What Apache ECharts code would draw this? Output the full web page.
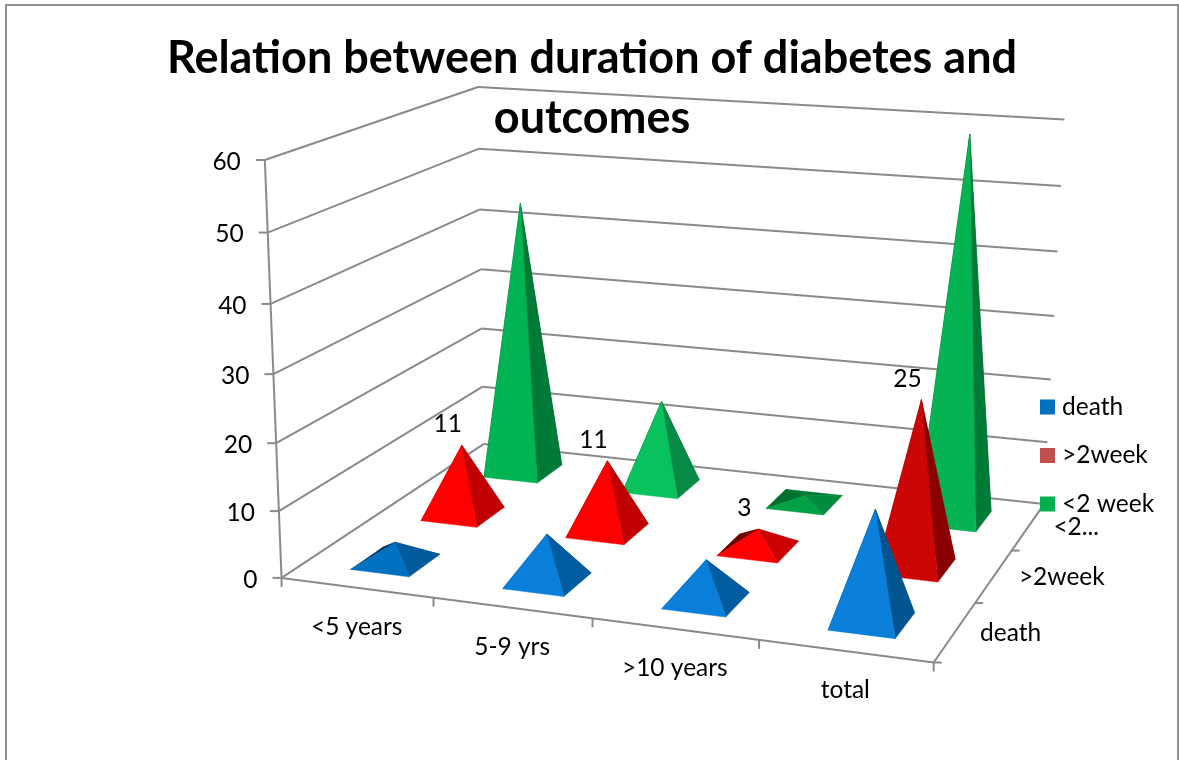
<!DOCTYPE html>
<html>
<head>
<meta charset="utf-8">
<style>html,body{margin:0;padding:0;background:#fff}#chart{width:1179px;height:760px}</style>
<script src="https://cdn.jsdelivr.net/npm/echarts@6/dist/echarts.min.js"></script>
</head>
<body>
<div id="chart"></div>
<script>
// Chart values
const categories = ['<5 years', '5-9 yrs', '>10 years', 'total'];
const seriesNames = ['death', '>2week', '<2 week'];
const depthLabels = ['death', '>2week', '<2...'];
const valueTicks = [0, 10, 20, 30, 40, 50, 60];
const deathValues = [3, 7, 6, 16];
const over2WeekValues = [11, 11, 3, 25];
const under2WeekValues = [44, 14, 1, 59];

// Face colours per pyramid: [back, left, right, front]
const deathFaces = [
  ['#00508c', '#002f55', '#005a9c', '#0070c0'],
  ['#00508c', '#002f55', '#005c9e', '#0a7fda'],
  ['#00508c', '#002f55', '#005c9e', '#0a7fda'],
  ['#00508c', '#002f55', '#005490', '#0a80da']
];
const over2WeekFaces = [
  ['#a00000', '#700000', '#c00000', '#ff0000'],
  ['#a00000', '#700000', '#c00000', '#ff0000'],
  ['#b00000', '#6e0000', '#cc0000', '#ff0000'],
  ['#a00000', '#700000', '#8a0000', '#cc0505']
];
const under2WeekFaces = [
  ['#006a30', '#004e22', '#007a37', '#00b353'],
  ['#006a30', '#004e22', '#078a45', '#08c35d'],
  ['#007a35', '#00702f', '#008a3e', '#00a044'],
  ['#006a30', '#004e22', '#007a37', '#06b353']
];

// Camera: a projective map fitted to reference points of the chart box.
// Each anchor is [category position, depth position, value, pixel x, pixel y].
const boxAnchors = [
  [0, 0, 60, 264, 161], [0, 0, 50, 268, 233], [0, 0, 40, 271, 304], [0, 0, 30, 274, 373],
  [0, 0, 20, 277, 442], [0, 0, 10, 279, 510], [0, 0, 0, 281, 578],
  [0, 3, 60, 478, 87], [0, 3, 50, 478, 148], [0, 3, 40, 480, 209], [0, 3, 30, 481, 269],
  [0, 3, 20, 482, 328], [0, 3, 10, 483, 388], [0, 3, 0, 484, 445],
  [4, 3, 60, 1063, 120], [4, 3, 50, 1061, 186], [4, 3, 40, 1059, 252], [4, 3, 30, 1056, 316],
  [4, 3, 20, 1051, 380], [4, 3, 10, 1047, 441], [4, 3, 0, 1041, 503],
  [4, 0, 0, 933, 662], [1, 0, 0, 433, 599], [2, 0, 0, 592, 619], [3, 0, 0, 758, 640],
  [4, 1, 0, 977, 603], [4, 2, 0, 1013, 551]
];

function fitCamera(anchors) {
  const n = 11, ata = [], atb = new Array(n).fill(0);
  for (let i = 0; i < n; i++) ata.push(new Array(n).fill(0));
  const add = (row, b) => {
    for (let i = 0; i < n; i++) {
      atb[i] += row[i] * b;
      for (let j = 0; j < n; j++) ata[i][j] += row[i] * row[j];
    }
  };
  anchors.forEach(([cx, dz, val, px, py]) => {
    const X = cx / 4, Z = dz / 3, Y = val / 60, u = px / 1000, v = py / 1000;
    add([X, Y, Z, 1, 0, 0, 0, 0, -u * X, -u * Y, -u * Z], u);
    add([0, 0, 0, 0, X, Y, Z, 1, -v * X, -v * Y, -v * Z], v);
  });
  for (let c = 0; c < n; c++) {
    let piv = c;
    for (let r = c + 1; r < n; r++) if (Math.abs(ata[r][c]) > Math.abs(ata[piv][c])) piv = r;
    [ata[c], ata[piv]] = [ata[piv], ata[c]];
    [atb[c], atb[piv]] = [atb[piv], atb[c]];
    for (let r = c + 1; r < n; r++) {
      const f = ata[r][c] / ata[c][c];
      for (let k = c; k < n; k++) ata[r][k] -= f * ata[c][k];
      atb[r] -= f * atb[c];
    }
  }
  const m = new Array(n).fill(0);
  for (let r = n - 1; r >= 0; r--) {
    let s = atb[r];
    for (let k = r + 1; k < n; k++) s -= ata[r][k] * m[k];
    m[r] = s / ata[r][r];
  }
  return m;
}
const cam = fitCamera(boxAnchors);

function project(cx, dz, val) {
  const X = cx / 4, Z = dz / 3, Y = val / 60;
  const w = cam[8] * X + cam[9] * Y + cam[10] * Z + 1;
  return [
    1000 * (cam[0] * X + cam[1] * Y + cam[2] * Z + cam[3]) / w,
    1000 * (cam[4] * X + cam[5] * Y + cam[6] * Z + cam[7]) / w
  ];
}

const FONT = 'Lato';
const TEXT_SIZE = 24.5;
const LINE = { stroke: '#8a8a8a', lineWidth: 2 };
const HALF_X = 0.195, HALF_Z = 0.22, SHIFT_X = 0.015;

function seg(a, b) {
  return { type: 'line', shape: { x1: a[0], y1: a[1], x2: b[0], y2: b[1] }, style: LINE, silent: true };
}
function label(text, p, align) {
  return {
    type: 'text', silent: true,
    style: { text: String(text), x: p[0], y: p[1], align: align, verticalAlign: 'middle',
      font: TEXT_SIZE + 'px ' + FONT, fill: '#000' }
  };
}

// Walls, floor edges, ticks and axis labels of the 3D box
function renderBox() {
  const c = [];
  valueTicks.forEach(v => {
    const a = project(0, 0, v), b = project(0, 3, v), r = project(4, 3, v);
    c.push(seg([a[0] - 9, a[1]], a), seg(a, b), seg(b, r));
    c.push(label(v, [a[0] - 24, a[1] + 2], 'right'));
  });
  c.push(seg(project(0, 0, 0), project(0, 0, 60)));
  c.push(seg(project(0, 0, 0), project(4, 0, 0)));
  c.push(seg(project(4, 0, 0), project(4, 3, 0)));
  for (let i = 0; i <= categories.length; i++) {
    const p = project(i, 0, 0);
    c.push(seg(p, [p[0], p[1] + 9]));
  }
  categories.forEach((name, i) => {
    const p = project(i + 0.5, 0, 0);
    c.push(label(name, [p[0], p[1] + 39], 'center'));
  });
  for (let k = 0; k <= depthLabels.length; k++) {
    const p = project(4, k, 0);
    c.push(seg(p, [p[0] + 8, p[1]]));
  }
  depthLabels.forEach((name, k) => {
    const p = project(4, k + 0.5, 0);
    c.push(label(name, [p[0] + 25, p[1] + 1], 'left'));
  });
  return { type: 'group', children: c };
}

function face(points, color) {
  return { type: 'polygon', shape: { points }, style: { fill: color, stroke: color, lineWidth: 0.5 } };
}

// One pyramid; the category and the value go through the hidden axes
function pyramidRenderer(depth, faces, showValue) {
  return function (params, api) {
    const cs = params.coordSys;
    const i = api.value(0), val = api.value(1);
    const p = api.coord([i, val]);
    const cx = (p[0] - cs.x) / cs.width * categories.length + SHIFT_X;
    const h = (cs.y + cs.height - p[1]) / cs.height * 60;
    const dz = depth + 0.5;
    const fl = project(cx - HALF_X, dz - HALF_Z, 0), fr = project(cx + HALF_X, dz - HALF_Z, 0);
    const bl = project(cx - HALF_X, dz + HALF_Z, 0), br = project(cx + HALF_X, dz + HALF_Z, 0);
    const top = project(cx, dz, h);
    const col = faces[i];
    const c = [
      face([bl, br, top], col[0]),
      face([fl, bl, top], col[1]),
      face([fr, br, top], col[2]),
      face([fl, fr, top], col[3])
    ];
    if (showValue) c.push(label(val, [top[0] - 14, top[1] - 21], 'center'));
    return { type: 'group', children: c };
  };
}

function pyramidSeries(name, values, depth, faces, color, showValue) {
  return {
    type: 'custom', name, coordinateSystem: 'cartesian2d', clip: false,
    itemStyle: { color },
    encode: { x: 0, y: 1 },
    data: values.map((v, i) => [i, v]),
    renderItem: pyramidRenderer(depth, faces, showValue)
  };
}

const chart = echarts.init(document.getElementById('chart'));
chart.setOption({
  animation: false,
  backgroundColor: '#fff',
  title: {
    text: 'Relation between duration of diabetes and\noutcomes',
    left: 587, top: 23, textAlign: 'center', z: 20,
    textStyle: { fontFamily: FONT, fontWeight: 'bold', fontSize: 45, lineHeight: 60, color: '#000' }
  },
  legend: {
    data: seriesNames, orient: 'vertical', left: 1040, top: 394.5,
    icon: 'rect', itemWidth: 15, itemHeight: 15, itemGap: 23.5, padding: 0,
    textStyle: { fontFamily: FONT, fontSize: TEXT_SIZE, color: '#000', padding: [0, 0, 0, 2] },
    selectedMode: false
  },
  grid: { left: 0, right: 0, top: 0, bottom: 0 },
  xAxis: { type: 'category', data: categories, show: false },
  yAxis: { type: 'value', min: 0, max: 60, interval: 10, show: false },
  graphic: [{
    type: 'rect', silent: true, z: -1,
    shape: { x: 6, y: 5, width: 1172, height: 800 },
    style: { fill: 'none', stroke: '#909090', lineWidth: 2 }
  }],
  series: [
    { type: 'custom', name: 'axes', coordinateSystem: 'none', silent: true, clip: false,
      data: [[0]], renderItem: renderBox },
    pyramidSeries('<2 week', under2WeekValues, 2, under2WeekFaces, '#00b050', false),
    pyramidSeries('>2week', over2WeekValues, 1, over2WeekFaces, '#c0504d', true),
    pyramidSeries('death', deathValues, 0, deathFaces, '#0070c0', false)
  ]
});
</script>
</body>
</html>
